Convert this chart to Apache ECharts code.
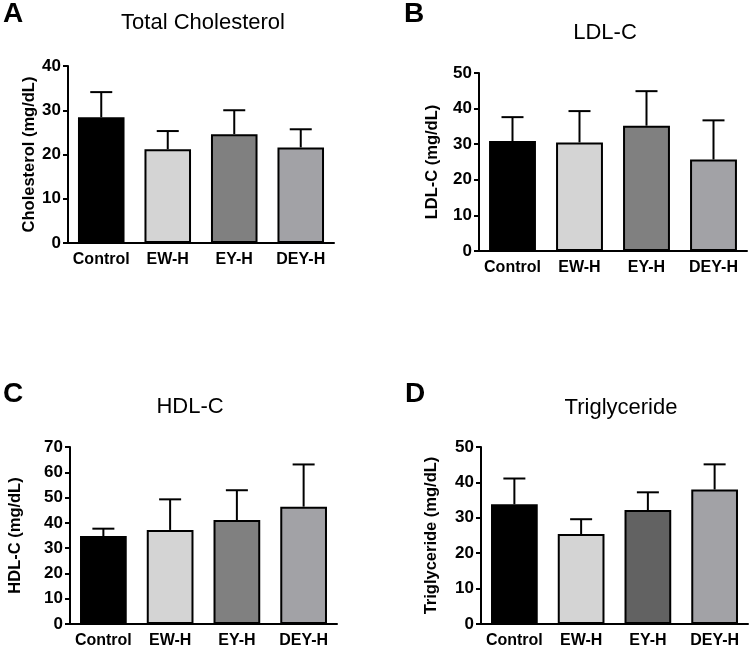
<!DOCTYPE html>
<html><head><meta charset="utf-8">
<script src="https://cdn.jsdelivr.net/npm/echarts@6/dist/echarts.min.js"></script>
<style>html,body{margin:0;padding:0;background:#fff}#c{width:753px;height:650px}</style>
</head><body><div id="c"></div>
<script>
var categories = ["Control", "EW-H", "EY-H", "DEY-H"];

var cholMean = [28.4, 21.2, 24.6, 21.6];
var cholSD   = [5.7, 4.1, 5.4, 4.1];

var ldlMean = [30.9, 30.5, 35.2, 25.7];
var ldlSD   = [6.7, 8.8, 9.7, 11.0];

var hdlMean = [34.8, 37.2, 41.1, 46.4];
var hdlSD   = [2.9, 12.1, 11.8, 16.7];

var tgMean = [33.8, 25.4, 32.2, 38.0];
var tgSD   = [7.3, 4.2, 5.0, 7.1];

var titles = ["Total Cholesterol", "LDL-C", "HDL-C", "Triglyceride"];
var yNames = ["Cholesterol (mg/dL)", "LDL-C (mg/dL)", "HDL-C (mg/dL)", "Triglyceride (mg/dL)"];
var yMax = [40, 50, 70, 50];
var panelLetters = ["A", "B", "C", "D"];

var colorsABC = ["#000000", "#d4d4d4", "#808080", "#a2a2a6"];
var colorsD   = ["#000000", "#d4d4d4", "#626262", "#a2a2a6"];

var FONT = "'Liberation Sans', Arial, Helvetica, sans-serif";

var panels = [
  {mean: cholMean, sd: cholSD, colors: colorsABC},
  {mean: ldlMean, sd: ldlSD, colors: colorsABC},
  {mean: hdlMean, sd: hdlSD, colors: colorsABC},
  {mean: tgMean, sd: tgSD, colors: colorsD}
];

var grids = [
  {left: 68, top: 66, width: 266, height: 177},
  {left: 479, top: 73, width: 268, height: 178},
  {left: 70, top: 447, width: 267, height: 177},
  {left: 481, top: 447, width: 267, height: 177}
];
var nameGaps = [28, 38, 46, 41];
var titlePos = [[203, 23], [605, 33], [190, 407], [621, 408]];
var letterPos = [[3, 14], [404, 14], [3, 394], [405, 394]];

var chart = echarts.init(document.getElementById('c'), null, {renderer: 'canvas'});

var xAxes = [], yAxes = [], series = [], graphics = [];
panels.forEach(function (p, i) {
  xAxes.push({
    type: 'category', gridIndex: i, data: categories,
    axisLine: {lineStyle: {color: '#000', width: 2}},
    axisTick: {alignWithLabel: true, length: 5, lineStyle: {color: '#000', width: 2}},
    axisLabel: {color: '#000', fontSize: 16, fontWeight: 'bold', fontFamily: FONT, margin: 9, interval: 0}
  });
  yAxes.push({
    type: 'value', gridIndex: i, min: 0, max: yMax[i], interval: 10,
    name: yNames[i], nameLocation: 'middle', nameGap: nameGaps[i],
    nameTextStyle: {color: '#000', fontSize: 16.5, fontWeight: 'bold', fontFamily: FONT},
    axisLine: {show: true, lineStyle: {color: '#000', width: 2}},
    axisTick: {show: true, length: 5, lineStyle: {color: '#000', width: 2}},
    splitLine: {show: false},
    axisLabel: {color: '#000', fontSize: 17, fontWeight: 'bold', fontFamily: FONT, margin: 7}
  });
  series.push({
    type: 'bar', xAxisIndex: i, yAxisIndex: i, barCategoryGap: '30%',
    data: p.mean.map(function (v, k) {
      return {value: v, itemStyle: {color: p.colors[k]}};
    }),
    itemStyle: {borderColor: '#000', borderWidth: 2},
    emphasis: {disabled: true},
    z: 2
  });
  series.push({
    type: 'custom', xAxisIndex: i, yAxisIndex: i,
    data: p.mean.map(function (v, k) { return [k, v, v + p.sd[k]]; }),
    encode: {x: 0, y: [1, 2]},
    renderItem: function (params, api) {
      var base = api.coord([api.value(0), api.value(1)]);
      var top = api.coord([api.value(0), api.value(2)]);
      var hw = 11;
      return {
        type: 'group',
        children: [
          {type: 'line', shape: {x1: base[0], y1: base[1], x2: top[0], y2: top[1]}, style: {stroke: '#000', lineWidth: 2}},
          {type: 'line', shape: {x1: top[0] - hw, y1: top[1], x2: top[0] + hw, y2: top[1]}, style: {stroke: '#000', lineWidth: 2}}
        ]
      };
    },
    z: 3
  });
  graphics.push({
    type: 'text',
    x: titlePos[i][0], y: titlePos[i][1],
    style: {text: titles[i], fill: '#000', font: 'normal 22px ' + FONT, textAlign: 'center', textVerticalAlign: 'middle'}
  });
  graphics.push({
    type: 'text',
    x: letterPos[i][0], y: letterPos[i][1],
    style: {text: panelLetters[i], fill: '#000', font: 'bold 28px ' + FONT, textAlign: 'left', textVerticalAlign: 'middle'}
  });
});

chart.setOption({
  animation: false,
  backgroundColor: '#fff',
  grid: grids,
  xAxis: xAxes,
  yAxis: yAxes,
  series: series,
  graphic: {elements: graphics}
});
</script></body></html>
